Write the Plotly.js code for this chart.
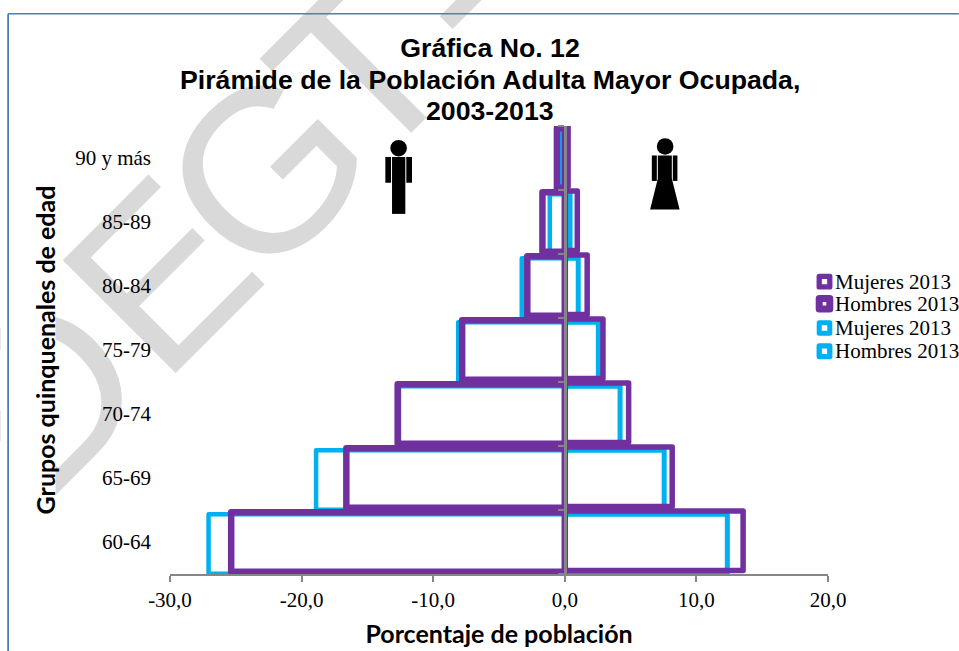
<!DOCTYPE html>
<html>
<head>
<meta charset="utf-8">
<script src="https://cdn.plot.ly/plotly-3.0.1.min.js"></script>
<style>
html,body{margin:0;padding:0;background:#fff}
.bars path,.shapelayer path{stroke-linejoin:round}
</style>
</head>
<body>
<div id="chart" style="width:959px;height:651px"></div>
<script>
const categories = ['60-64','65-69','70-74','75-79','80-84','85-89','90 y más'];
const hombresBlue = [-27.07,-18.9,-12.6,-8.1,-3.27,-1.14,-0.4];
const mujeresBlue = [12.35,7.55,4.2,2.55,1.02,0.4,0.1];
const hombresPurple = [-25.35,-16.6,-12.7,-7.8,-2.85,-1.7,-0.6];
const mujeresPurple = [13.55,8.16,4.85,2.9,1.7,0.95,0.25];
const xTickVals = [-30,-20,-10,0,10,20];
const xTickText = ['-30,0','-20,0','-10,0','0,0','10,0','20,0'];
const yBoundaries = [-0.5,0.5,1.5,2.5,3.5,4.5,5.5,6.5];
const legendNames = ['Mujeres 2013','Hombres 2013','Mujeres 2013','Hombres 2013'];
const titleLines = ['Gráfica No. 12','Pirámide de la Población Adulta Mayor Ocupada,','2003-2013'];
const watermarkLetters = ['D','E','G','T','-'];
const watermarkCx = [28,144,250,346,437];
const watermarkCy = [377,259,154,52,-27];
const PURPLE='#7030A0', BLUE='#00B0F0', GRAY='#868686', WATER='#D9D9D9', FRAME='#4A7EBB';
const SERIF='"Liberation Serif", serif', SANS='"Liberation Sans", Arial, sans-serif', CAL='Lato, sans-serif';
const NARROW='"Liberation Sans Narrow", "Liberation Sans", sans-serif';

// plot-area geometry in page pixels
const L=169.5,T=125.5,R=828,B=574,W=959,H=651;
const px=x=>(x-L)/(R-L), py=y=>(B-y)/(B-T);

function barTrace(name,x,color,lw,offset){
  return {type:'bar',orientation:'h',name,x,y:categories,width:0.93,offset,
    cliponaxis:false,showlegend:false,hoverinfo:'x+y',
    marker:{color:'rgba(0,0,0,0)',line:{color,width:lw}}};
}
const data=[
  barTrace('Mujeres 2013',mujeresBlue,BLUE,5,-0.497),
  barTrace('Hombres 2013',hombresBlue,BLUE,4.5,-0.497),
  barTrace('Mujeres 2013',mujeresPurple,PURPLE,5.5,-0.445),
  barTrace('Hombres 2013',hombresPurple,PURPLE,6.5,-0.465),
  {type:'scatter',x:[null],y:[null],yaxis:'y2',showlegend:false,hoverinfo:'skip'}
];

function rectPx(x0,y0,x1,y1,extra){
  return Object.assign({type:'rect',xref:'paper',yref:'paper',x0:px(x0),x1:px(x1),y0:py(y0),y1:py(y1),layer:'below'},extra);
}
function circlePx(cx,cy,r){
  return {type:'circle',xref:'paper',yref:'paper',x0:px(cx-r),x1:px(cx+r),y0:py(cy-r),y1:py(cy+r),
    fillcolor:'#000',line:{width:0},layer:'above'};
}
function blackRect(x0,y0,x1,y1){
  return rectPx(x0,y0,x1,y1,{fillcolor:'#000',line:{width:0},layer:'above'});
}
function polyPx(pts){
  return {type:'path',xref:'paper',yref:'paper',fillcolor:'#000',line:{width:0},layer:'above',
    path:pts.map((p,i)=>(i?'L':'M')+px(p[0])+','+py(p[1])).join(' ')+' Z'};
}
const swatches=[
  {cy:281.3,color:PURPLE,lw:5.3},
  {cy:303.5,color:PURPLE,lw:7},
  {cy:327.7,color:BLUE,lw:5},
  {cy:351,color:BLUE,lw:5.3}
];
const watermark=watermarkLetters.map((c,i)=>rectPx(watermarkCx[i]-5,watermarkCy[i]-5,watermarkCx[i]+5,watermarkCy[i]+5,
  {fillcolor:'rgba(0,0,0,0)',line:{width:0},
   label:{text:c,textangle:-45,textposition:'middle center',padding:0,font:{family:NARROW,size:232,color:WATER}}}));
const shapes=watermark.concat([
  // blank area behind the y axis title
  rectPx(0,14,55,651,{fillcolor:'#fff',line:{width:0}}),
  // chart frame
  {type:'line',xref:'paper',yref:'paper',x0:px(7.5),x1:px(7.5),y0:py(651),y1:py(13),line:{color:FRAME,width:1.8},layer:'below'},
  {type:'line',xref:'paper',yref:'paper',x0:px(7.5),x1:px(959),y0:py(13),y1:py(13),line:{color:FRAME,width:1.5},layer:'below'},
  // man icon
  circlePx(398.3,147.7,8.3),
  blackRect(391.7,156.5,405,213.5),
  blackRect(385,156.5,390.7,182.3),
  blackRect(406,156.5,411.7,182.3),
  // woman icon
  circlePx(665,146,8.3),
  polyPx([[657.7,155],[671.7,155],[671.7,178],[679.5,209],[650,209],[657.7,178]]),
  blackRect(651.7,155,656.7,180.5),
  blackRect(672.7,155,677.3,180.5)
]).concat(swatches.map(s=>rectPx(819.2,s.cy-5.3,829.8,s.cy+5.3,
  {fillcolor:'rgba(0,0,0,0)',line:{color:s.color,width:s.lw},layer:'above'})));

const annotations=legendNames.map((n,i)=>({
  text:n,xref:'paper',yref:'paper',x:px(834),y:py(swatches[i].cy),
  xanchor:'left',yanchor:'middle',showarrow:false,borderpad:0,
  font:{family:SERIF,size:21,color:'#000'}
})).concat(titleLines.slice(1).map((t,i)=>({
  text:t,xref:'paper',yref:'paper',x:px(490),y:py(79+31*i),
  xanchor:'center',yanchor:'middle',showarrow:false,borderpad:0,
  font:{family:SANS,size:26.7,color:'#000',weight:700}
})));

const layout={
  width:W,height:H,autosize:false,
  paper_bgcolor:'#fff',plot_bgcolor:'rgba(0,0,0,0)',
  showlegend:false,barmode:'overlay',
  margin:{l:L,r:W-R,t:T,b:H-B,pad:0},
  title:{text:titleLines[0],
    x:490/W,xref:'container',xanchor:'center',y:1-48/H,yref:'container',yanchor:'middle',
    font:{family:SANS,size:26.7,color:'#000',weight:700}},
  xaxis:{range:[-30,20],tickmode:'array',tickvals:xTickVals,ticktext:xTickText,
    showgrid:false,zeroline:false,showline:true,linecolor:GRAY,linewidth:2,
    ticks:'outside',ticklen:6,tickwidth:2,tickcolor:GRAY,
    tickfont:{family:SERIF,size:21,color:'#000'},
    title:{text:'Porcentaje de población',standoff:14,font:{family:CAL,size:25,color:'#000',weight:700}}},
  yaxis:{type:'category',categoryorder:'array',categoryarray:categories,range:[-0.5,6.5],
    showgrid:false,zeroline:false,showline:false,ticks:'',ticklabelstandoff:18,
    tickfont:{family:SERIF,size:21,color:'#000'},
    title:{text:'Grupos quinquenales de edad',standoff:12,font:{family:CAL,size:25,color:'#000',weight:700}}},
  yaxis2:{overlaying:'y',anchor:'free',position:0.6,side:'left',range:[-0.5,6.5],
    tickmode:'array',tickvals:yBoundaries,showticklabels:false,
    showgrid:false,zeroline:false,showline:true,linecolor:GRAY,linewidth:2.5,
    ticks:'outside',ticklen:6,tickwidth:2,tickcolor:GRAY},
  shapes,annotations
};
Plotly.newPlot('chart',data,layout,{displayModeBar:false,responsive:false});
</script>
</body>
</html>
